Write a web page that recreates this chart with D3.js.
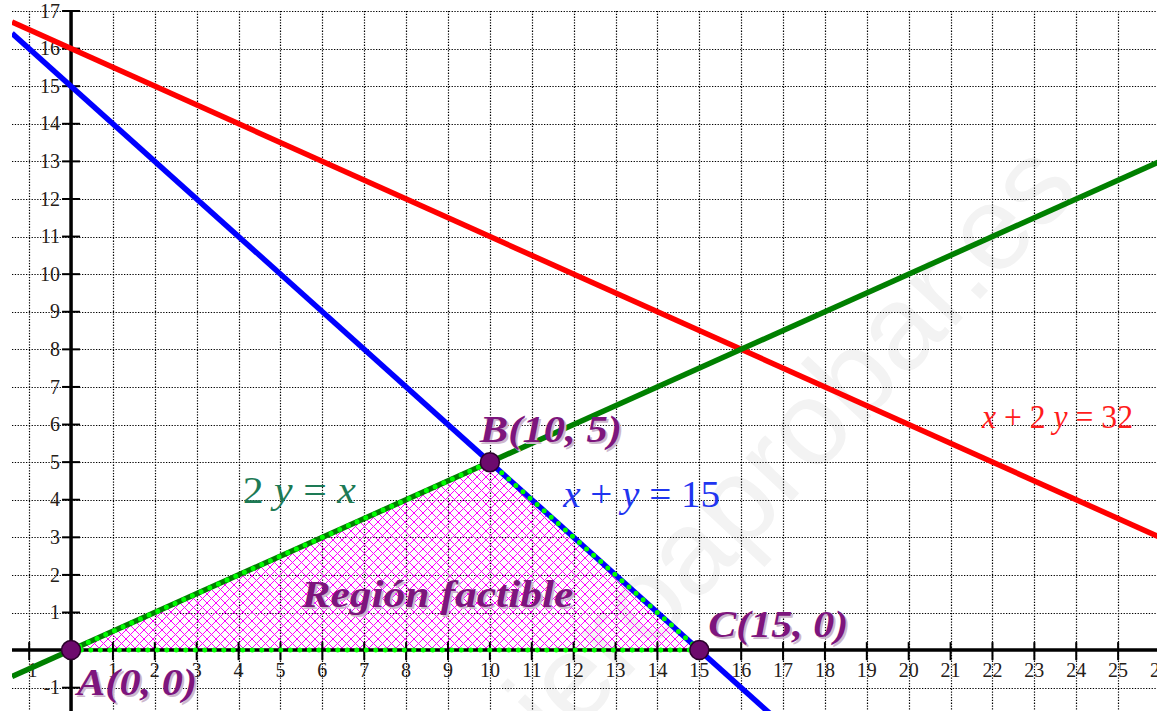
<!DOCTYPE html>
<html>
<head>
<meta charset="utf-8">
<script src="https://cdn.jsdelivr.net/npm/d3@7/dist/d3.min.js"></script>
<style>
body { margin: 0; background: #fff; }
#chart svg { display: block; }
</style>
</head>
<body>
<div id="chart"></div>
<script>

let xTicks = [-1, 1, 2, 3, 4, 5, 6, 7, 8, 9, 10, 11, 12, 13, 14, 15, 16, 17, 18, 19, 20, 21, 22, 23, 24, 25, 26];
let yTicks = [-1, 1, 2, 3, 4, 5, 6, 7, 8, 9, 10, 11, 12, 13, 14, 15, 16, 17];

// restrictions written as a*x + b*y = c
let lineNames = ["x + 2 y = 32", "x + y = 15", "2 y = x"];
let lineA = [1, 1, -1];
let lineB = [2, 1, 2];
let lineC = [32, 15, 0];

let vertexNames = ["A", "B", "C"];
let vertexX = [0, 10, 15];
let vertexY = [0, 5, 0];

let regionLabel = "Región factible";
let watermark = "www.yoquieroaprobar.es";

class FeasibleChart {

    constructor () {
        this.width = 1157;
        this.height = 711;
        this.svg = d3.select("#chart").append("svg")
            .attr("width", this.width)
            .attr("height", this.height);
        this.x = d3.scaleLinear().domain([-1.41, 26]).range([12, 1160]);
        this.y = d3.scaleLinear().domain([-1.62, 17]).range([711, 11]);
    }

    update () {
	let x = this.x, y = this.y, svg = this.svg;
	let left = 12, right = this.width, top = y(17), bottom = this.height;
	let serif = "'Liberation Serif', 'Times New Roman', serif";

	let defs = svg.append("defs");
	defs.append("clipPath").attr("id", "plot")
	    .append("rect")
	    .attr("x", left).attr("y", top)
	    .attr("width", right - left).attr("height", bottom - top);
	let hatch = defs.append("pattern")
	    .attr("id", "hatch")
	    .attr("patternUnits", "userSpaceOnUse")
	    .attr("width", 9).attr("height", 9);
	hatch.append("path")
	    .attr("d", "M-1,-1L10,10M10,-1L-1,10")
	    .attr("stroke", "#ff00ff")
	    .attr("stroke-width", 1);

	// faint watermark
	svg.append("text")
	    .text(watermark)
	    .attr("transform", "translate(1082,190) rotate(-47)")
	    .attr("text-anchor", "end")
	    .style("font-family", "'Liberation Sans', Arial, sans-serif")
	    .style("font-size", "120px")
	    .style("fill", "#f3f3f3");

	let grid = svg.append("g").attr("clip-path", "url(#plot)")
	    .attr("stroke", "#000")
	    .attr("stroke-width", 1.2)
	    .attr("stroke-dasharray", "1.3,1.5");
	grid.selectAll(".gx").data(xTicks).enter().append("line")
	    .attr("x1", d => Math.round(x(d)) + 0.5)
	    .attr("x2", d => Math.round(x(d)) + 0.5)
	    .attr("y1", top).attr("y2", bottom);
	grid.selectAll(".gy").data(yTicks).enter().append("line")
	    .attr("y1", d => Math.round(y(d)) + 0.5)
	    .attr("y2", d => Math.round(y(d)) + 0.5)
	    .attr("x1", left).attr("x2", right);

	let region = vertexX.map((d, i) => [x(d), y(vertexY[i])]);
	svg.append("path")
	    .attr("d", d3.line()(region) + "Z")
	    .attr("fill", "url(#hatch)");

	// axes
	svg.append("line")
	    .attr("x1", left).attr("x2", right)
	    .attr("y1", y(0)).attr("y2", y(0))
	    .attr("stroke", "#000").attr("stroke-width", 3.5);
	svg.append("line")
	    .attr("x1", x(0)).attr("x2", x(0))
	    .attr("y1", top - 1).attr("y2", bottom)
	    .attr("stroke", "#000").attr("stroke-width", 3.5);
	svg.selectAll(".tx").data(xTicks).enter().append("line")
	    .attr("x1", d => x(d)).attr("x2", d => x(d))
	    .attr("y1", y(0) - 8).attr("y2", y(0) + 10)
	    .attr("stroke", "#000").attr("stroke-width", 2);
	svg.selectAll(".ty").data(yTicks).enter().append("line")
	    .attr("y1", d => y(d)).attr("y2", d => y(d))
	    .attr("x1", x(0) - 9).attr("x2", x(0) + 9)
	    .attr("stroke", "#000").attr("stroke-width", 2);
	svg.selectAll(".lx").data(xTicks).enter().append("text")
	    .text(d => d)
	    .attr("x", d => x(d))
	    .attr("y", y(0) + 27)
	    .style("text-anchor", "middle")
	    .style("font-family", serif)
	    .style("font-size", "20px")
	    .style("fill", "#262018");
	svg.selectAll(".ly").data(yTicks).enter().append("text")
	    .text(d => d)
	    .attr("x", x(0) - 11)
	    .attr("y", d => y(d))
	    .attr("dy", "0.33em")
	    .style("text-anchor", "end")
	    .style("font-family", serif)
	    .style("font-size", "20px")
	    .style("fill", "#262018");

	// restriction lines
	let colors = ["#ff0000", "#0000ff", "#008000"];
	let lines = svg.append("g").attr("clip-path", "url(#plot)");
	lineNames.forEach(function(name, i){
	    let ends = x.domain().map(v => [v, (lineC[i] - lineA[i] * v) / lineB[i]]);
	    lines.append("path")
		.attr("d", d3.line().x(d => x(d[0])).y(d => y(d[1]))(ends))
		.attr("fill", "none")
		.attr("stroke", colors[i])
		.attr("stroke-width", 5.5);
	});

	// dotted border of the region
	svg.append("path")
	    .attr("d", d3.line()(region) + "Z")
	    .attr("fill", "none")
	    .attr("stroke", "#00ff00")
	    .attr("stroke-width", 5)
	    .attr("stroke-linecap", "round")
	    .attr("stroke-dasharray", "0,9.5");

	svg.selectAll(".vertex").data(vertexNames).enter().append("circle")
	    .attr("cx", (d, i) => x(vertexX[i]))
	    .attr("cy", (d, i) => y(vertexY[i]))
	    .attr("r", 9.5)
	    .attr("fill", "#6d0a6d")
	    .attr("stroke", "#2a002a")
	    .attr("stroke-width", 1.5);

	// purple labels: vertices and region
	let purple = [
	    {t: vertexNames[0] + "(" + vertexX[0] + ", " + vertexY[0] + ")", px: x(0) + 6, py: y(0) + 45, w: 120},
	    {t: vertexNames[1] + "(" + vertexX[1] + ", " + vertexY[1] + ")", px: x(10) - 10, py: y(5) - 20, w: 142},
	    {t: vertexNames[2] + "(" + vertexX[2] + ", " + vertexY[2] + ")", px: x(15) + 9, py: y(0) - 13, w: 140},
	    {t: regionLabel, px: x(5.5), py: y(1.15), w: 272}
	];
	[["#cdb8cd", 2], ["#7d157d", 0]].forEach(function(s){
	    svg.selectAll(null).data(purple).enter().append("text")
		.text(d => d.t)
		.attr("x", d => d.px + s[1])
		.attr("y", d => d.py + s[1])
		.attr("textLength", d => d.w)
		.attr("lengthAdjust", "spacingAndGlyphs")
		.style("font-family", serif)
		.style("font-size", "38px")
		.style("font-weight", "bold")
		.style("font-style", "italic")
		.style("fill", s[0]);
	});

	// equation labels
	let eqColors = ["#ff1c1c", "#1f35f0", "#1d7a55"];
	let eqPos = [[x(21.75), y(5.9), 151, 33], [x(11.75), y(3.8), 157, 38], [x(4.1), y(3.9), 113, 37]];
	lineNames.forEach(function(name, i){
	    let t = svg.append("text")
		.attr("x", eqPos[i][0])
		.attr("y", eqPos[i][1])
		.attr("textLength", eqPos[i][2])
		.attr("lengthAdjust", "spacingAndGlyphs")
		.style("font-family", serif)
		.style("font-size", eqPos[i][3] + "px")
		.style("fill", eqColors[i])
		.attr("xml:space", "preserve");
	    name.split(/([xy])/).filter(s => s.length).forEach(function(s){
		t.append("tspan").text(s)
		    .style("font-style", (s == "x" || s == "y") ? "italic" : "normal");
	    });
	});
    }

};

let chart = new FeasibleChart();
chart.update();
</script>
</body>
</html>
